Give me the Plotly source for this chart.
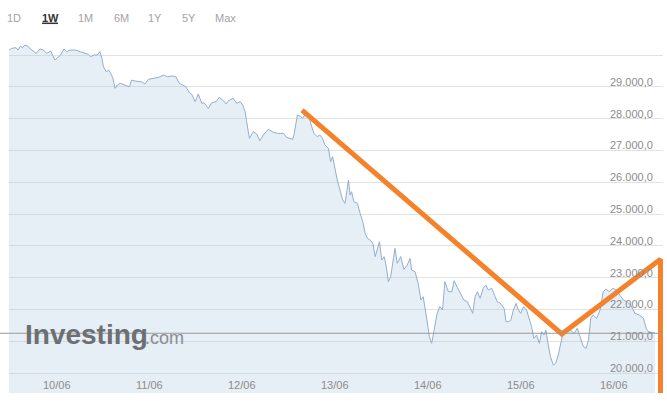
import pandas as pd
import plotly.graph_objects as go

# price readings, hours counted from the first point (09/06 11:41)
start = pd.Timestamp("2022-06-09 11:41")

hours = [0.0, 0.7, 1.8, 2.3, 3.0, 3.5, 4.1, 4.7, 5.9, 7.0,
         8.0, 8.9, 9.7, 10.8, 11.3, 11.9, 12.5, 13.2, 14.2, 14.9,
         15.8, 17.1, 18.4, 19.6, 20.5, 21.1, 22.0, 22.8, 23.5, 24.0,
         24.4, 25.1, 25.7, 26.3, 26.8, 27.4, 28.0, 28.7, 30.0, 31.1,
         31.7, 32.6, 34.3, 35.1, 36.0, 37.3, 38.6, 40.0, 40.9, 42.3,
         43.1, 44.0, 45.0, 45.7, 46.6, 47.2, 48.1, 48.9, 49.8, 50.4,
         51.5, 52.4, 53.5, 54.3, 55.4, 56.1, 56.7, 57.9, 58.8, 59.7,
         60.4, 61.0, 61.4, 62.1, 63.1, 64.0, 64.8, 65.7, 67.0, 68.3,
         69.3, 70.9, 71.7, 73.3, 73.7, 74.5, 75.2, 75.9, 76.6, 77.6,
         78.2, 78.8, 79.6, 80.3, 81.0, 81.6, 82.5, 83.1, 83.6, 84.2,
         84.8, 85.5, 86.2, 86.8, 87.2, 87.7, 88.1, 88.5, 89.1, 90.0,
         90.7, 91.4, 92.0, 92.6, 93.3, 94.0, 94.6, 95.1, 95.7, 96.3,
         96.9, 97.4, 98.0, 98.6, 99.3, 99.7, 100.3, 101.2, 102.0, 102.9,
         103.6, 104.0, 104.9, 105.7, 106.4, 107.0, 107.7, 108.6, 109.2, 109.9,
         110.6, 111.3, 112.0, 112.6, 113.5, 114.4, 115.0, 115.8, 116.7, 117.5,
         118.4, 119.1, 119.8, 120.4, 121.0, 121.7, 122.5, 123.2, 123.8, 124.7,
         125.6, 126.1, 126.8, 127.9, 128.4, 129.0, 129.6, 130.3, 131.0, 131.6,
         132.2, 132.9, 133.7, 134.4, 135.0, 135.6, 136.3, 137.0, 137.6, 138.2,
         138.7, 139.3, 139.9, 140.6, 141.2, 141.9, 142.5, 143.0, 143.9, 144.9,
         146.0, 146.8, 147.5, 148.4, 149.1, 149.7, 150.3, 150.9, 151.8, 152.7,
         153.5, 154.2, 155.1, 156.0, 156.8, 157.7, 158.7, 159.6, 160.6, 161.7,
         162.8, 163.9, 164.6, 165.2, 166.0, 166.9]

prices = [30157, 30210, 30230, 30157, 30283, 30230, 30314, 30290, 30157, 30050,
          30190, 30157, 30050, 30126, 29980, 29843, 29915, 29980, 30190, 30105,
          30157, 30157, 30105, 30050, 30020, 29947, 30000, 30000, 30105, 29896,
          29632, 29475, 29528, 29423, 29286, 28950, 29057, 29110, 29057, 29003,
          29214, 29180, 29160, 29088, 29236, 29267, 29298, 29371, 29318, 29340,
          29318, 29110, 29057, 29003, 28815, 28764, 28532, 28774, 28480, 28500,
          28324, 28500, 28532, 28670, 28563, 28459, 28563, 28638, 28480, 28532,
          28428, 28217, 27903, 27380, 27590, 27516, 27305, 27484, 27663, 27569,
          27537, 27537, 27411, 27349, 27537, 28113, 28082, 28010, 28150, 28010,
          27745, 27537, 27432, 27484, 27380, 27170, 27066, 26646, 26803, 26384,
          26069, 25755, 25440, 25336, 25650, 26069, 25597, 25702, 25388, 25336,
          25020, 24758, 24393, 24235, 24182, 24078, 23659, 23868, 24130, 23553,
          23659, 23396, 22870, 23027, 23659, 23920, 23450, 23660, 23260, 23396,
          23606, 23238, 23185, 22820, 22296, 22400, 21876, 21143, 20934, 21353,
          21876, 22086, 21981, 22870, 22557, 22557, 22903, 22694, 22506, 22296,
          22243, 22034, 21876, 22400, 22557, 22348, 22663, 22768, 22610, 22663,
          22400, 22243, 22210, 22034, 21616, 21616, 21647, 21981, 22190, 21981,
          21876, 22086, 21981, 21720, 21458, 21090, 21196, 20934, 21300, 21196,
          21353, 20880, 20512, 20250, 20300, 20565, 20880, 21196, 21300, 21353,
          21248, 21405, 21143, 20830, 20775, 21040, 21720, 21825, 21720, 21980,
          22557, 22636, 22557, 22663, 22610, 22450, 22296, 22243, 22138, 21876,
          21825, 21720, 21405, 21300, 21270, 21250]

last_price = 21250

# hand-drawn orange trend lines
trend_hours = [75.7, 142.8, 168.3, 168.3]
trend_prices = [28270, 21226, 23575, 19300]

y_ticks = [20000, 21000, 22000, 23000, 24000, 25000, 26000, 27000, 28000, 29000, 30000]
y_labels = ["20.000,0", "21.000,0", "22.000,0", "23.000,0", "24.000,0",
            "25.000,0", "26.000,0", "27.000,0", "28.000,0", "29.000,0"]
x_days = ["2022-06-10", "2022-06-11", "2022-06-12", "2022-06-13",
          "2022-06-14", "2022-06-15", "2022-06-16"]
x_labels = ["10/06", "11/06", "12/06", "13/06", "14/06", "15/06", "16/06"]
tabs = ["1D", "1W", "1M", "6M", "1Y", "5Y", "Max"]
tab_x = [0.0084, 0.0627, 0.1177, 0.1713, 0.2232, 0.2752, 0.3318]

times = start + pd.to_timedelta(hours, unit="h")
trend_times = start + pd.to_timedelta(trend_hours, unit="h")

fig = go.Figure()
fig.add_trace(go.Scatter(
    x=times, y=prices, mode="lines", fill="tozeroy",
    fillcolor="rgba(176,202,228,0.32)",
    line=dict(color="#93afcc", width=1), hoverinfo="skip"))
fig.add_trace(go.Scatter(
    x=trend_times, y=trend_prices, mode="lines",
    line=dict(color="#f5822b", width=5), hoverinfo="skip"))

# current price line
fig.add_shape(type="line", xref="paper", yref="y", x0=-0.014, x1=1,
              y0=last_price, y1=last_price, line=dict(color="#9a9a9a", width=1),
              layer="above")

annotations = []
for v, t in zip(y_ticks, y_labels):
    annotations.append(dict(x=1, xref="paper", xanchor="right", xshift=-8,
                            y=v, yref="y", yanchor="bottom", yshift=-3,
                            text=t, showarrow=False,
                            font=dict(size=11, color="#8c8c8c")))
for d, t in zip(x_days, x_labels):
    annotations.append(dict(x=d, xref="x", xanchor="center",
                            y=0, yref="paper", yanchor="middle", yshift=8,
                            text=t, showarrow=False,
                            font=dict(size=11, color="#8c8c8c")))
for tx, t in zip(tab_x, tabs):
    bold = t == "1W"
    annotations.append(dict(x=tx, xref="paper", xanchor="center",
                            y=1.0615, yref="paper", yanchor="middle",
                            text="<b>%s</b>" % t if bold else t, showarrow=False,
                            font=dict(size=11, color="#333333" if bold else "#a3a3a3")))
# watermark
annotations.append(dict(x=0.0214, xref="paper", xanchor="left",
                        y=0.1671, yref="paper", yanchor="middle",
                        text="<b>Investing</b>", showarrow=False,
                        font=dict(size=28, color="#6c6f73")))
annotations.append(dict(x=0.2049, xref="paper", xanchor="left",
                        y=0.157, yref="paper", yanchor="middle",
                        text=".com", showarrow=False,
                        font=dict(size=18, color="#8a8d91")))

# underline under the active tab
fig.add_shape(type="line", xref="paper", yref="paper", x0=0.0505, x1=0.0749,
              y0=1.0473, y1=1.0473, line=dict(color="#333333", width=1.5))

fig.update_layout(
    width=667, height=404,
    margin=dict(l=9, r=4, t=40, b=11),
    paper_bgcolor="white", plot_bgcolor="white",
    showlegend=False,
    font=dict(family="Liberation Sans, Arial, sans-serif"),
    annotations=annotations,
    xaxis=dict(range=[start, start + pd.Timedelta(hours=168.95)],
               showgrid=False, zeroline=False, showticklabels=False, ticks=""),
    yaxis=dict(range=[19371, 30472], tickvals=y_ticks, showticklabels=False,
               showgrid=True, gridcolor="#e2e2e2", gridwidth=1, zeroline=False),
)

fig.write_html("out.html", config={"displayModeBar": False},
               post_script="document.body.style.margin='0';")
